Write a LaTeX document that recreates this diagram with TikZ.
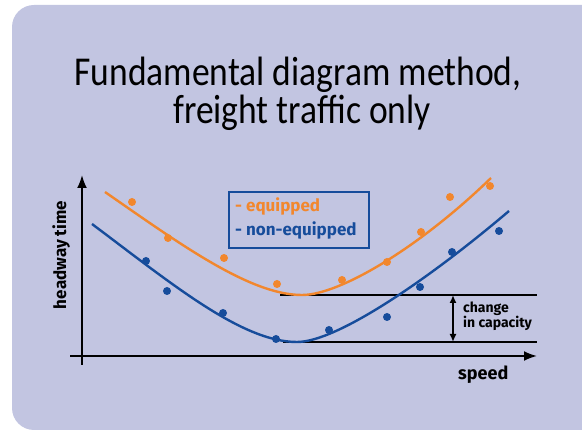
\documentclass[tikz,border=0pt]{standalone}
\usepackage{graphicx}
\usepackage{fontspec}
\setmainfont{Fira Sans}
\newfontfamily\titlefont{Carlito}
\usetikzlibrary{arrows.meta}
\definecolor{bgl}{RGB}{194,197,225}
\definecolor{orng}{RGB}{242,135,45}
\definecolor{blu}{RGB}{22,76,155}
\newcommand{\ttl}[1]{\scalebox{0.867}[1]{#1}}
\tikzset{
  titletxt/.style={font=\titlefont\fontsize{41}{45}\selectfont, anchor=base, inner sep=0pt},
  lbl/.style={font=\bfseries\fontsize{17}{20}\selectfont, inner sep=0pt},
  small/.style={font=\bfseries\fontsize{14}{16}\selectfont, inner sep=0pt, anchor=base west},
  axis/.style={line width=2pt, -{Latex[length=13pt,width=10pt]}},
  hline/.style={line width=2pt},
  ocurve/.style={orng, line width=2.4pt},
  bcurve/.style={blu, line width=2.4pt},
  odot/.style={fill=orng},
  bdot/.style={fill=blu}
}
\begin{document}
\begin{tikzpicture}[x=1pt,y=-1pt]
\useasboundingbox (0,0) rectangle (582,430);
\begin{scope}
\clip (0,0) rectangle (582,430);
\fill[bgl, rounded corners=22pt] (12,5) rectangle (640,430);
\end{scope}
% title
\node[titletxt] (t1) at (298,86) {\ttl{Fundamental diagram method,}};
\node[titletxt] (t2) at (302,124) {\ttl{freight traffic only}};
% axes
\coordinate (yb) at (82,365);
\coordinate (yt) at (82,175);
\coordinate (xl) at (70,356);
\coordinate (xr) at (537,356);
\draw[axis] (yb) -- (yt);
\draw[axis] (xl) -- (xr);
% capacity lines
\coordinate (u1) at (280,295);
\coordinate (u2) at (537,295);
\coordinate (l1) at (283,342);
\coordinate (l2) at (537,342);
\draw[hline] (u1) -- (u2);
\draw[hline] (l1) -- (l2);
\coordinate (da) at (453,295);
\coordinate (db) at (453,342);
\draw[line width=2pt, {Latex[length=8pt,width=7pt]}-{Latex[length=8pt,width=7pt]}] (da) -- (db);
% curves
\draw[ocurve] (105,192) .. controls (180,244) and (250,295) .. (302,295)
                        .. controls (340,295) and (420,247) .. (491,178);
\draw[bcurve] (92,224) .. controls (172,284) and (242,342) .. (297,342)
                       .. controls (337,342) and (429,279) .. (509,211);
% dots
\foreach \p in {(132,202),(168,238),(224,258),(277,284),(342,280),(387,262),(421,232),(450,197),(490,186)}
  \fill[odot] \p circle (4);
\foreach \p in {(146,261),(167,291),(223,313),(276,339),(329,330),(387,317),(420,287),(452,252),(499,231)}
  \fill[bdot] \p circle (4);
% legend
\node[draw=blu, line width=2pt, minimum width=140pt, minimum height=56pt, anchor=north west, inner sep=0pt] (leg) at (228,191) {};
\node[lbl, orng, anchor=base west] (le) at (235,212) {- equipped};
\node[lbl, blu, anchor=base west] (ln) at (235,236) {- non-equipped};
% labels
\node[lbl, rotate=90, anchor=base] (ylab) at (66,255) {headway time};
\node[lbl, font=\bfseries\fontsize{18}{20}\selectfont, anchor=base west] (xlab) at (458,380) {speed};
\node[small] (c1) at (463,313) {change};
\node[small] (c2) at (463,328) {in capacity};
\end{tikzpicture}
\end{document}
